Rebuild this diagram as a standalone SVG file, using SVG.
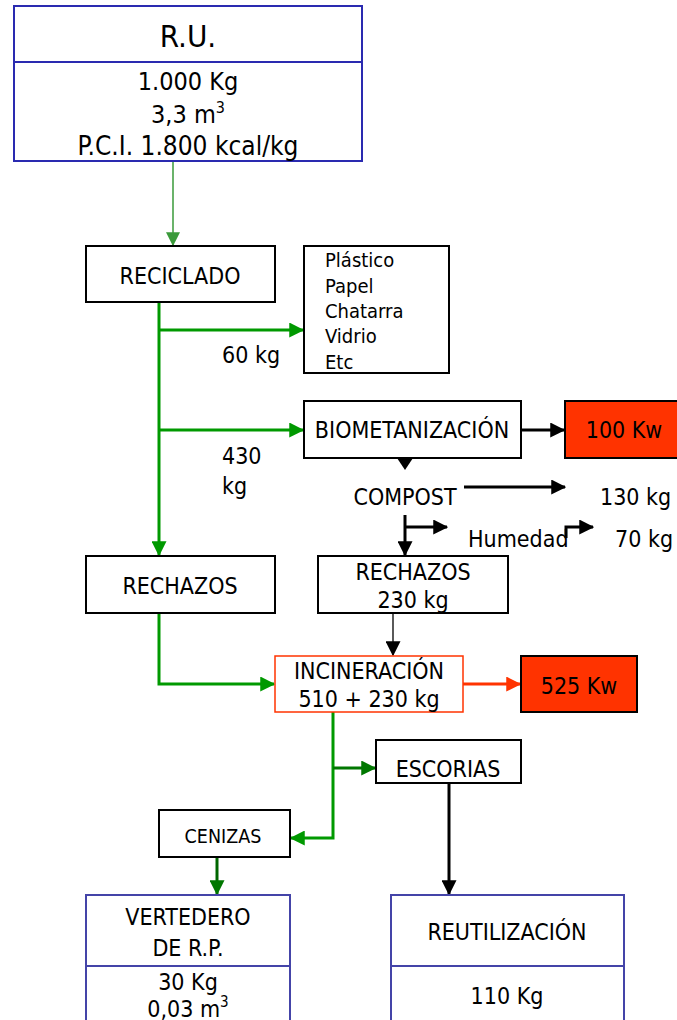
<svg xmlns="http://www.w3.org/2000/svg" width="677" height="1020" viewBox="0 0 677 1020">
<defs>
<style>
text{font-family:'DejaVu Sans Condensed','DejaVu Sans',sans-serif;font-stretch:condensed;fill:#000;font-size:23px}
.c{text-anchor:middle}
.box{fill:#fff;stroke:#000;stroke-width:2}
.blue{fill:#fff;stroke:#2a2ab0;stroke-width:2}
.blue2{fill:#fff;stroke:#4444a8;stroke-width:2}
.g{fill:none;stroke:#009900;stroke-width:3}
.dg{fill:none;stroke:#007700;stroke-width:3}
.k{fill:none;stroke:#000;stroke-width:3}
.k1{fill:none;stroke:#000;stroke-width:1.3}
</style>
<marker id="ag" viewBox="0 0 12 12" refX="11" refY="6" markerWidth="15" markerHeight="15" markerUnits="userSpaceOnUse" orient="auto"><path d="M0,0 L12,6 L0,12 z" fill="#009900"/></marker>
<marker id="alg" viewBox="0 0 12 12" refX="11" refY="6" markerWidth="14" markerHeight="14" markerUnits="userSpaceOnUse" orient="auto"><path d="M0,0 L12,6 L0,12 z" fill="#3a9a3a"/></marker>
<marker id="adg" viewBox="0 0 12 12" refX="11" refY="6" markerWidth="15" markerHeight="15" markerUnits="userSpaceOnUse" orient="auto"><path d="M0,0 L12,6 L0,12 z" fill="#007700"/></marker>
<marker id="ak" viewBox="0 0 12 12" refX="11" refY="6" markerWidth="15" markerHeight="15" markerUnits="userSpaceOnUse" orient="auto"><path d="M0,0 L12,6 L0,12 z" fill="#000"/></marker>
<marker id="ako" viewBox="0 0 12 12" refX="11" refY="6" markerWidth="15" markerHeight="15" markerUnits="userSpaceOnUse" orient="auto"><path d="M0,0 L12,6 L0,12 z" fill="#ff3300"/></marker>
</defs>

<g id="connectors">
<line x1="173" y1="161" x2="173" y2="245" stroke="#3a9a3a" stroke-width="1.5" marker-end="url(#alg)"/>
<line class="g" x1="159" y1="302" x2="159" y2="555" marker-end="url(#ag)"/>
<line class="g" x1="159" y1="330" x2="303" y2="330" marker-end="url(#ag)"/>
<line class="g" x1="159" y1="430" x2="303" y2="430" marker-end="url(#ag)"/>
<line class="k" x1="521" y1="430" x2="564" y2="430" marker-end="url(#ak)"/>
<path d="M397,458 L413,458 L405,470 z" fill="#000"/>
<line class="k" x1="464" y1="487" x2="565" y2="487" marker-end="url(#ak)"/>
<line class="k" x1="405" y1="515" x2="405" y2="555" marker-end="url(#ak)"/>
<line class="k" x1="405" y1="527" x2="447" y2="527" marker-end="url(#ak)"/>
<polyline class="k" points="566,538 566,527 593,527" marker-end="url(#ak)"/>
<line class="k1" x1="393" y1="613" x2="393" y2="655" marker-end="url(#ak)"/>
<polyline class="g" points="159,613 159,684 274,684" marker-end="url(#ag)"/>
<line x1="463" y1="684" x2="520" y2="684" stroke="#ff3300" stroke-width="3" marker-end="url(#ako)"/>
<polyline class="g" points="333,712 333,838 291,838" marker-end="url(#ag)"/>
<line class="dg" x1="333" y1="768" x2="375" y2="768" marker-end="url(#adg)"/>
<line class="k" x1="449" y1="783" x2="449" y2="894" marker-end="url(#ak)"/>
<line x1="217" y1="853" x2="217" y2="894" stroke="#006600" stroke-width="3" marker-end="url(#adg)"/>
</g>

<g id="ru">
<rect class="blue" x="14" y="6" width="348" height="155"/>
<line x1="14" y1="62" x2="362" y2="62" stroke="#2a2ab0" stroke-width="2"/>
<text class="c" x="188" y="47" style="font-size:31px">R.U.</text>
<text class="c" x="188" y="90" style="font-size:25px">1.000 Kg</text>
<text class="c" x="188" y="123" style="font-size:25px">3,3 m<tspan style="font-size:16px" dy="-10">3</tspan></text>
<text class="c" x="188" y="155" style="font-size:26px">P.C.I. 1.800 kcal/kg</text>
</g>

<g id="reciclado">
<rect class="box" x="86" y="246" width="189" height="56"/>
<text class="c" x="180" y="284">RECICLADO</text>
</g>

<g id="materiales">
<rect class="box" x="304" y="246" width="145" height="127"/>
<text x="325" y="267" style="font-size:20px">Plástico</text>
<text x="325" y="293" style="font-size:20px">Papel</text>
<text x="325" y="318" style="font-size:20px">Chatarra</text>
<text x="325" y="343" style="font-size:20px">Vidrio</text>
<text x="325" y="369" style="font-size:20px">Etc</text>
</g>

<g id="lbl60"><text x="222" y="363">60 kg</text></g>
<g id="lbl430"><text x="222" y="464">430</text><text x="222" y="494">kg</text></g>

<g id="biometanizacion">
<rect class="box" x="304" y="401" width="217" height="57"/>
<text class="c" x="412" y="438">BIOMETANIZACIÓN</text>
</g>

<g id="kw100">
<rect x="565" y="401" width="115" height="57" fill="#ff3300" stroke="#000" stroke-width="2"/>
<text class="c" x="624" y="438">100 Kw</text>
</g>

<g id="compost"><text class="c" x="405" y="505">COMPOST</text></g>
<g id="kg130"><text x="600" y="505">130 kg</text></g>
<g id="humedad"><text x="468" y="547">Humedad</text></g>
<g id="kg70"><text x="615" y="547">70 kg</text></g>

<g id="rechazos1">
<rect class="box" x="86" y="556" width="189" height="57"/>
<text class="c" x="180" y="594">RECHAZOS</text>
</g>

<g id="rechazos2">
<rect class="box" x="318" y="556" width="190" height="57"/>
<text class="c" x="413" y="580">RECHAZOS</text>
<text class="c" x="413" y="608">230 kg</text>
</g>

<g id="incineracion">
<rect x="275" y="656" width="188" height="56" fill="#fff" stroke="#ff3300" stroke-width="1.5"/>
<text class="c" x="369" y="679">INCINERACIÓN</text>
<text class="c" x="369" y="707">510 + 230 kg</text>
</g>

<g id="kw525">
<rect x="521" y="656" width="116" height="56" fill="#ff3300" stroke="#000" stroke-width="2"/>
<text class="c" x="579" y="694">525 Kw</text>
</g>

<g id="escorias">
<rect class="box" x="376" y="740" width="145" height="43"/>
<text class="c" x="448" y="777">ESCORIAS</text>
</g>

<g id="cenizas">
<rect class="box" x="159" y="810" width="131" height="47"/>
<text class="c" x="223" y="843" style="font-size:19.5px">CENIZAS</text>
</g>

<g id="vertedero">
<rect class="blue2" x="86" y="895" width="204" height="135"/>
<line x1="86" y1="966" x2="290" y2="966" stroke="#4444a8" stroke-width="2"/>
<text class="c" x="188" y="925">VERTEDERO</text>
<text class="c" x="188" y="956">DE R.P.</text>
<text class="c" x="188" y="990">30 Kg</text>
<text class="c" x="188" y="1017">0,03 m<tspan style="font-size:15px" dy="-10">3</tspan></text>
</g>

<g id="reutilizacion">
<rect class="blue2" x="391" y="895" width="233" height="135"/>
<line x1="391" y1="966" x2="624" y2="966" stroke="#4444a8" stroke-width="2"/>
<text class="c" x="507" y="940">REUTILIZACIÓN</text>
<text class="c" x="507" y="1004">110 Kg</text>
</g>
</svg>
